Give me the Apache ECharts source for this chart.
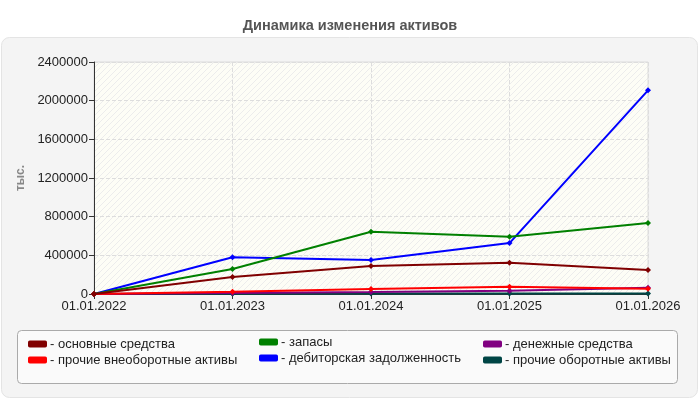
<!DOCTYPE html>
<html><head><meta charset="utf-8">
<script src="https://cdn.jsdelivr.net/npm/echarts@6/dist/echarts.min.js"></script>
<style>html,body{margin:0;padding:0;background:#fff}#c{width:700px;height:400px}</style>
</head><body><div id="c"></div>
<script>
const categories = ['01.01.2022','01.01.2023','01.01.2024','01.01.2025','01.01.2026'];
const yTicks = [0,400000,800000,1200000,1600000,2000000,2400000];
const osnovnye = [0,176000,290000,324000,248000];
const prochieVneob = [0,24000,52000,76000,55000];
const zapasy = [0,258000,644000,593000,734000];
const debitor = [0,380000,352000,527000,2107000];
const denezhnye = [0,10000,20000,34000,65000];
const prochieObor = [0,3000,5000,6000,5000];

const names = ['основные средства','прочие внеоборотные активы','запасы','дебиторская задолженность','денежные средства','прочие оборотные активы'];
const datas = [osnovnye, prochieVneob, zapasy, debitor, denezhnye, prochieObor];
const colors = ['#800000','#ff0000','#008000','#0000ff','#800080','#004545'];

// hatch pattern
const pc = document.createElement('canvas');
pc.width = 6; pc.height = 6;
const px = pc.getContext('2d');
px.fillStyle = '#fdfdf6'; px.fillRect(0,0,6,6);
px.strokeStyle = '#ececec'; px.lineWidth = 1;
px.beginPath(); px.moveTo(0,6); px.lineTo(6,0); px.moveTo(-1,1); px.lineTo(1,-1); px.moveTo(5,7); px.lineTo(7,5); px.stroke();

const font = 'Liberation Sans, Arial, sans-serif';
const chart = echarts.init(document.getElementById('c'));
const legendBase = {orient:'vertical', icon:'roundRect', itemWidth:19, itemHeight:7, itemGap:2, padding:0,
  textStyle:{fontFamily:font, fontSize:13, lineHeight:14, color:'#222', padding:[0,0,0,-2]}, formatter: n => '- ' + n, selectedMode:false};
chart.setOption({
  animation:false,
  backgroundColor:'#fff',
  title:{text:'Динамика изменения активов', left:'center', top:13,
    textStyle:{fontFamily:font, fontSize:14.5, fontWeight:'bold', color:'#555'}},
  graphic:[
    {type:'rect', z:-10, shape:{x:1.5,y:37.5,width:696,height:360,r:8}, style:{fill:'#f4f4f4', stroke:'#e4e4e4', lineWidth:1}},
    {type:'rect', z:-5, shape:{x:17.5,y:330.5,width:660,height:53,r:4}, style:{fill:'#fafafa', stroke:'#aaaaaa', lineWidth:1}}
  ],
  grid:{left:94, right:52, top:62, bottom:106, show:true, backgroundColor:{image:pc, repeat:'repeat'}, borderColor:'#dddddd', borderWidth:1},
  xAxis:{type:'category', data:categories, boundaryGap:false,
    axisLine:{lineStyle:{color:'#333', width:1}},
    axisTick:{show:true, length:5, lineStyle:{color:'#333'}},
    axisLabel:{fontFamily:font, fontSize:13, color:'#222', margin:6},
    splitLine:{show:true, lineStyle:{color:'#dddddd', type:'dashed'}}},
  yAxis:{type:'value', min:yTicks[0], max:yTicks[yTicks.length-1], interval:yTicks[1]-yTicks[0],
    name:'тыс.', nameLocation:'middle', nameGap:59, nameRotate:90,
    nameTextStyle:{fontFamily:font, fontSize:12, fontWeight:'bold', color:'#888'},
    axisLine:{show:true, lineStyle:{color:'#333', width:1}},
    axisTick:{show:true, length:5, lineStyle:{color:'#333'}},
    axisLabel:{fontFamily:font, fontSize:13, color:'#222', margin:6, formatter: v => String(v)},
    splitLine:{show:true, lineStyle:{color:'#dddddd', type:'dashed'}}},
  legend:[
    Object.assign({}, legendBase, {left:28, top:337, data:[names[0],names[1]]}),
    Object.assign({}, legendBase, {left:259, top:335, data:[names[2],names[3]]}),
    Object.assign({}, legendBase, {left:483, top:337, data:[names[4],names[5]]})
  ],
  series: names.map((n,i)=>({name:n, type:'line', data:datas[i], color:colors[i],
    lineStyle:{width:2, color:colors[i]}, symbol:'diamond', symbolSize:6, showSymbol:true,
    itemStyle:{color:colors[i]}, z: 10-i}))
});
</script></body></html>
